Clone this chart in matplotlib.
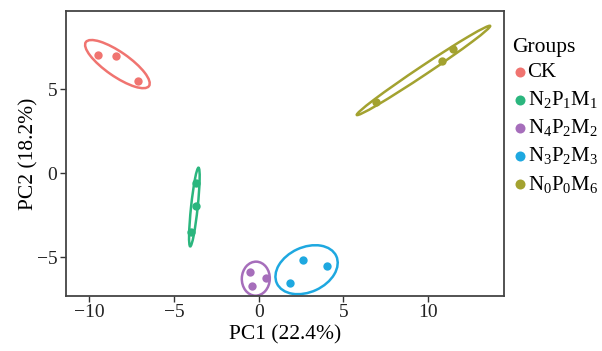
import numpy as np
import matplotlib
matplotlib.use("Agg")
import matplotlib.pyplot as plt
from matplotlib.patches import Ellipse

plt.rcParams['font.family'] = ['Liberation Serif', 'DejaVu Serif']
plt.rcParams['mathtext.fontset'] = 'custom'
plt.rcParams['mathtext.rm'] = 'Liberation Serif'
plt.rcParams['mathtext.it'] = 'Liberation Serif:italic'
plt.rcParams['mathtext.default'] = 'regular'

groups = ['CK', r'N$_2$P$_1$M$_1$', r'N$_4$P$_2$M$_2$', r'N$_3$P$_2$M$_3$', r'N$_0$P$_0$M$_6$']
colors = ['#F07470', '#2BB67E', '#A66EBB', '#1EA8E0', '#A3A230']

ck_x = [-9.48, -8.42, -7.13]
ck_y = [7.0, 6.95, 5.5]
g1_x = [-3.70, -3.70, -4.0]
g1_y = [-0.58, -1.96, -3.5]
g2_x = [-0.52, 0.42, -0.42]
g2_y = [-5.87, -6.23, -6.71]
g3_x = [2.59, 4.04, 1.84]
g3_y = [-5.14, -5.54, -6.53]
g4_x = [6.91, 10.79, 11.47]
g4_y = [4.24, 6.68, 7.40]

xs = [ck_x, g1_x, g2_x, g3_x, g4_x]
ys = [ck_y, g1_y, g2_y, g3_y, g4_y]

fig = plt.figure(figsize=(6.02, 3.51), dpi=100)
ax = fig.add_axes([0.109, 0.1567, 0.728, 0.812])

scale = 1.6
for x, y, c, lab in zip(xs, ys, colors, groups):
    ax.scatter(x, y, s=36, color=c, label=lab, zorder=3, linewidths=0)
    cov = np.cov(x, y)
    vals, vecs = np.linalg.eigh(cov)
    ang = np.degrees(np.arctan2(vecs[1, 1], vecs[0, 1]))
    w = 2 * scale * np.sqrt(vals[1])
    h = 2 * scale * 1.5 * np.sqrt(max(vals[0], 1e-4))
    ax.add_patch(Ellipse((np.mean(x), np.mean(y)), w, h, angle=ang,
                         fill=False, edgecolor=c, lw=1.8, zorder=2))

ax.set_xlim(-11.4, 14.47)
ax.set_ylim(-7.3, 9.64)
ax.set_xticks([-10, -5, 0, 5, 10])
ax.set_yticks([-5, 0, 5])
ax.set_xticklabels(['\u221210', '\u22125', '0', '5', '10'])
ax.set_yticklabels(['\u22125', '0', '5'])
ax.tick_params(labelsize=14, length=4, width=1, pad=2, color='#333333', colors='#222222')
for s in ax.spines.values():
    s.set_color('#444444')
    s.set_linewidth(1.3)
ax.set_xlabel('PC1 (22.4%)', fontsize=15.5, labelpad=3)
ax.set_ylabel('PC2 (18.2%)', fontsize=15.5, labelpad=-1)

leg = ax.legend(title='Groups', loc='upper left', bbox_to_anchor=(1.0185, 0.905),
                frameon=False, fontsize=15, title_fontsize=15.5, handletextpad=0.0,
                handlelength=0.75, labelspacing=0.34, borderaxespad=0, borderpad=0,
                markerscale=1.2)
leg._legend_box.align = 'left'
leg._legend_box.sep = 4

fig.savefig('out.png', dpi=100)
